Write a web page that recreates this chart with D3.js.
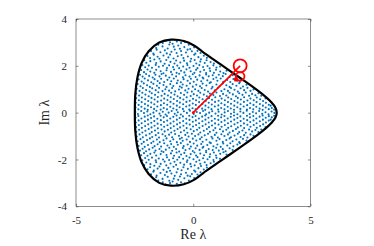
<!DOCTYPE html>
<html lang="en">
<head>
    <meta charset="UTF-8">
    <title>Eigenvalues and numerical range</title>
    <script src="https://d3js.org/d3.v7.min.js"></script>
    <style>
        body { margin: 0; background: #fff; }
        svg { display: block; }
        .tick text { font-family: "Liberation Serif", "Times New Roman", serif; font-size: 11px; fill: #262626; }
        .tick line { stroke: #404040; stroke-width: 0.6; }
        .label { font-family: "Liberation Serif", "Times New Roman", serif; font-size: 14px; fill: #262626; }
    </style>
</head>
<body>
<svg width="374" height="246"></svg>
<script>
    // tick values
    const reTicks = [-5, 0, 5];
    const imTicks = [-4, -2, 0, 2, 4];

    // boundary of the region, upper half (closed by symmetry below)
    const boundaryUpper = [
        [3.56, 0], [3.5, 0.22], [3.35, 0.42], [3.1, 0.66], [2.7, 0.98], [2.0, 1.48],
        [1.2, 2.04], [0.4, 2.6], [0.05, 2.86], [-0.4, 3.06], [-0.95, 3.12], [-1.45, 3.0],
        [-1.9, 2.62], [-2.2, 2.12], [-2.38, 1.5], [-2.47, 0.8], [-2.49, 0]
    ];

    // eigenvalues in the upper half plane and on the real axis
    // (real matrix, so the lower half holds the conjugates)
    const eigenvalues = [
        [-1.3,2.97],[-1.18,3.06],[-0.99,3.01],[-0.88,2.94],[-0.7,3.04],[-0.52,2.97],[-0.36,3.02],
        [-1.58,2.76],[-1.49,2.9],[-1.31,2.83],[-1.09,2.74],[-1.02,2.91],[-0.83,2.82],[-0.64,2.87],[-0.57,2.73],[-0.38,2.8],[-0.19,2.9],[-0.13,2.72],[0.04,2.79],
        [-1.8,2.63],[-1.7,2.52],[-1.56,2.69],[-1.4,2.58],[-1.21,2.66],[-1.13,2.53],[-0.93,2.6],[-0.79,2.7],[-0.71,2.55],[-0.52,2.63],[-0.31,2.57],[-0.24,2.69],[-0.06,2.62],[0.09,2.52],[0.18,2.64],[0.31,2.55],
        [-1.95,2.42],[-1.84,2.33],[-1.68,2.47],[-1.52,2.39],[-1.44,2.3],[-1.27,2.44],[-1.06,2.36],[-0.99,2.48],[-0.84,2.31],[-0.66,2.41],[-0.5,2.46],[-0.42,2.33],[-0.23,2.4],[-0.09,2.3],[0.04,2.47],[0.22,2.37],[0.33,2.28],[0.45,2.43],[0.58,2.34],
        [-2.09,2.24],[-2.0,2.13],[-1.83,2.2],[-1.66,2.27],[-1.58,2.12],[-1.39,2.19],[-1.22,2.09],[-1.15,2.25],[-0.97,2.17],[-0.8,2.1],[-0.73,2.23],[-0.55,2.14],[-0.39,2.22],[-0.27,2.11],[-0.12,2.19],[0.06,2.25],[0.13,2.1],[0.3,2.18],[0.49,2.12],[0.57,2.24],[0.74,2.16],[0.88,2.1],
        [-2.17,2.03],[-2.05,1.94],[-1.9,2.01],[-1.76,1.92],[-1.6,2.04],[-1.47,1.96],[-1.29,2.0],[-1.12,1.91],[-1.03,2.02],[-0.86,1.95],[-0.68,2.01],[-0.6,1.9],[-0.43,1.97],[-0.25,2.03],[-0.16,1.92],[0.01,1.99],[0.18,1.9],[0.26,2.03],[0.42,1.95],[0.61,1.99],[0.7,1.89],[0.86,2.02],[0.99,1.93],[1.14,1.97],
        [-2.22,1.82],[-2.1,1.73],[-1.95,1.84],[-1.83,1.76],[-1.66,1.7],[-1.58,1.83],[-1.39,1.77],[-1.27,1.68],[-1.14,1.81],[-0.95,1.74],[-0.82,1.84],[-0.71,1.7],[-0.52,1.79],[-0.38,1.72],[-0.29,1.85],[-0.11,1.77],[0.05,1.7],[0.12,1.83],[0.3,1.75],[0.46,1.82],[0.55,1.69],[0.72,1.78],[0.88,1.7],[0.97,1.83],[1.15,1.76],[1.29,1.69],[1.42,1.79],
        [-2.27,1.62],[-2.16,1.54],[-2.01,1.65],[-1.88,1.57],[-1.73,1.5],[-1.61,1.62],[-1.44,1.55],[-1.35,1.65],[-1.17,1.58],[-1.02,1.5],[-0.9,1.63],[-0.73,1.55],[-0.6,1.66],[-0.44,1.51],[-0.33,1.6],[-0.16,1.54],[-0.02,1.64],[0.1,1.52],[0.27,1.59],[0.4,1.5],[0.55,1.63],[0.66,1.55],[0.83,1.6],[0.98,1.5],[1.09,1.62],[1.26,1.56],[1.38,1.65],[1.55,1.52],[1.68,1.6],
        [-2.33,1.42],[-2.2,1.33],[-2.07,1.46],[-1.93,1.38],[-1.79,1.3],[-1.65,1.43],[-1.52,1.35],[-1.37,1.45],[-1.24,1.31],[-1.1,1.4],[-0.94,1.34],[-0.83,1.46],[-0.66,1.37],[-0.53,1.3],[-0.41,1.43],[-0.24,1.36],[-0.1,1.45],[0.02,1.32],[0.17,1.41],[0.34,1.34],[0.43,1.46],[0.6,1.38],[0.75,1.3],[0.86,1.44],[1.03,1.36],[1.17,1.46],[1.28,1.32],[1.45,1.4],[1.58,1.31],[1.71,1.44],[1.88,1.36],[1.99,1.31],
        [-2.37,1.22],[-2.25,1.13],[-2.11,1.25],[-1.97,1.17],[-1.85,1.1],[-1.7,1.23],[-1.55,1.15],[-1.43,1.26],[-1.27,1.18],[-1.14,1.1],[-0.98,1.22],[-0.85,1.14],[-0.7,1.26],[-0.57,1.12],[-0.45,1.2],[-0.28,1.15],[-0.14,1.25],[-0.02,1.11],[0.13,1.19],[0.29,1.13],[0.4,1.24],[0.56,1.16],[0.7,1.27],[0.82,1.1],[0.99,1.2],[1.12,1.13],[1.26,1.25],[1.41,1.17],[1.55,1.1],[1.68,1.22],[1.84,1.15],[1.96,1.26],[2.12,1.12],[2.27,1.19],
        [-2.41,1.02],[-2.29,0.93],[-2.15,1.05],[-2.01,0.97],[-1.86,0.9],[-1.75,1.04],[-1.6,0.96],[-1.46,1.06],[-1.31,0.92],[-1.19,1.0],[-1.03,0.94],[-0.9,1.05],[-0.77,0.91],[-0.61,0.99],[-0.49,1.07],[-0.34,0.95],[-0.2,1.02],[-0.06,0.9],[0.08,1.0],[0.22,0.93],[0.36,1.05],[0.49,0.97],[0.63,0.9],[0.78,1.03],[0.92,0.95],[1.05,1.06],[1.2,0.92],[1.33,1.0],[1.48,0.93],[1.61,1.05],[1.76,0.98],[1.9,0.9],[2.02,1.04],[2.17,0.96],[2.31,1.06],[2.44,0.93],[2.57,0.99],
        [-2.43,0.82],[-2.31,0.73],[-2.17,0.85],[-2.04,0.77],[-1.9,0.7],[-1.77,0.83],[-1.63,0.76],[-1.49,0.87],[-1.35,0.72],[-1.22,0.8],[-1.08,0.73],[-0.94,0.85],[-0.8,0.77],[-0.67,0.7],[-0.53,0.84],[-0.39,0.76],[-0.25,0.86],[-0.11,0.71],[0.02,0.79],[0.16,0.73],[0.3,0.85],[0.45,0.77],[0.58,0.7],[0.71,0.82],[0.86,0.75],[0.99,0.86],[1.14,0.71],[1.27,0.8],[1.41,0.73],[1.55,0.85],[1.69,0.78],[1.82,0.7],[1.96,0.83],[2.1,0.76],[2.24,0.86],[2.38,0.72],[2.51,0.8],[2.65,0.74],[2.78,0.83],[2.9,0.72],
        [-2.44,0.62],[-2.32,0.53],[-2.19,0.65],[-2.05,0.57],[-1.92,0.5],[-1.78,0.63],[-1.65,0.56],[-1.51,0.67],[-1.37,0.52],[-1.24,0.6],[-1.1,0.54],[-0.96,0.66],[-0.83,0.58],[-0.69,0.5],[-0.56,0.63],[-0.42,0.56],[-0.28,0.66],[-0.15,0.51],[-0.01,0.59],[0.12,0.53],[0.26,0.65],[0.4,0.57],[0.53,0.5],[0.67,0.62],[0.8,0.55],[0.94,0.66],[1.08,0.51],[1.21,0.6],[1.35,0.53],[1.49,0.65],[1.62,0.58],[1.76,0.5],[1.9,0.63],[2.03,0.56],[2.17,0.66],[2.31,0.52],[2.44,0.6],[2.58,0.53],[2.71,0.65],[2.85,0.57],[2.98,0.5],[3.08,0.61],
        [-2.45,0.42],[-2.33,0.33],[-2.2,0.45],[-2.06,0.37],[-1.93,0.3],[-1.79,0.43],[-1.66,0.36],[-1.52,0.47],[-1.38,0.32],[-1.25,0.4],[-1.11,0.34],[-0.97,0.46],[-0.84,0.38],[-0.7,0.3],[-0.57,0.43],[-0.43,0.36],[-0.29,0.46],[-0.16,0.31],[-0.02,0.39],[0.11,0.33],[0.25,0.45],[0.39,0.37],[0.52,0.3],[0.66,0.42],[0.79,0.35],[0.93,0.46],[1.07,0.31],[1.2,0.4],[1.34,0.33],[1.48,0.45],[1.61,0.38],[1.75,0.3],[1.89,0.43],[2.02,0.36],[2.16,0.46],[2.3,0.32],[2.43,0.4],[2.57,0.33],[2.7,0.45],[2.84,0.37],[2.97,0.3],[3.1,0.42],[3.22,0.34],[3.3,0.3],
        [-2.46,0.22],[-2.34,0.14],[-2.21,0.25],[-2.07,0.17],[-1.94,0.12],[-1.8,0.23],[-1.67,0.16],[-1.53,0.26],[-1.39,0.13],[-1.26,0.2],[-1.12,0.14],[-0.98,0.25],[-0.85,0.18],[-0.71,0.12],[-0.58,0.23],[-0.44,0.16],[-0.3,0.26],[-0.17,0.13],[-0.03,0.19],[0.1,0.14],[0.24,0.25],[0.38,0.17],[0.51,0.12],[0.65,0.22],[0.78,0.15],[0.92,0.26],[1.06,0.13],[1.19,0.2],[1.33,0.14],[1.47,0.25],[1.6,0.18],[1.74,0.12],[1.88,0.23],[2.01,0.16],[2.15,0.26],[2.29,0.13],[2.42,0.2],[2.56,0.14],[2.69,0.25],[2.83,0.17],[2.96,0.12],[3.09,0.22],[3.22,0.15],[3.35,0.2],[3.45,0.13],
        [-2.47,0.03],[-2.36,-0.06],[-2.22,0.07],[-2.1,-0.02],[-1.96,0.05],[-1.83,-0.07],[-1.7,0.0],[-1.57,0.08],[-1.44,-0.04],[-1.3,0.04],[-1.18,-0.08],[-1.05,0.0],[-0.92,0.07],[-0.79,-0.05],[-0.66,0.02],[-0.53,-0.08],[-0.4,0.06],[-0.27,-0.01],[-0.14,0.08],[0.02,-0.06],[0.15,0.03],[0.29,-0.02],[0.42,0.07],[0.55,-0.07],[0.68,0.0],[0.81,0.06],[0.95,-0.04],[1.08,0.04],[1.21,-0.08],[1.34,0.01],[1.48,0.07],[1.61,-0.05],[1.74,0.02],[1.88,-0.07],[2.01,0.05],[2.14,-0.01],[2.28,0.08],[2.41,-0.06],[2.54,0.03],[2.68,-0.03],[2.81,0.07],[2.94,-0.05],[3.08,0.02],[3.21,-0.07],[3.34,0.05],[3.46,-0.01]
    ];

    // red overlay: ray from the origin, two circles and the marked point
    const ray = [[0, 0], [2, 2]];
    const circleCenters = [[2, 2], [2, 1.55]];
    const circleRadii = [6.5, 4.3];
    const markedPoint = [1.82, 1.42];

    // conjugate pairs
    const allEig = eigenvalues.flatMap(([re, im]) => im > 0.1 ? [[re, im], [re, -im]] : [[re, im]]);
    const boundary = boundaryUpper.concat(boundaryUpper.slice(1, -1).reverse().map(([re, im]) => [re, -im]));

    const svg = d3.select("svg");
    const margin = { left: 76, right: 63.5, top: 19, bottom: 39.7 };
    const width = +svg.attr("width");
    const height = +svg.attr("height");

    const x = d3.scaleLinear().domain([-5, 5]).range([margin.left, width - margin.right]);
    const y = d3.scaleLinear().domain([-4, 4]).range([height - margin.bottom, margin.top]);

    // eigenvalue dots
    svg.append("g")
        .selectAll("circle")
        .data(allEig)
        .enter().append("circle")
        .attr("cx", d => x(d[0]))
        .attr("cy", d => y(d[1]))
        .attr("r", 1.05)
        .attr("fill", "#0072BD");

    // boundary curve
    const line = d3.line()
        .x(d => x(d[0]))
        .y(d => y(d[1]))
        .curve(d3.curveCatmullRomClosed.alpha(0.5));

    svg.append("path")
        .datum(boundary)
        .attr("d", line)
        .attr("fill", "none")
        .attr("stroke", "#000")
        .attr("stroke-width", 2.2);

    // red ray and markers
    svg.append("path")
        .datum(ray)
        .attr("d", d3.line().x(d => x(d[0])).y(d => y(d[1])))
        .attr("stroke", "#ff0000")
        .attr("stroke-width", 1.6)
        .attr("fill", "none");

    svg.append("circle")
        .attr("cx", x(0)).attr("cy", y(0)).attr("r", 1.4)
        .attr("fill", "#ff0000");

    svg.selectAll(".probe")
        .data(circleCenters)
        .enter().append("circle")
        .attr("class", "probe")
        .attr("cx", d => x(d[0]))
        .attr("cy", d => y(d[1]))
        .attr("r", (d, i) => circleRadii[i])
        .attr("fill", "none")
        .attr("stroke", "#ff0000")
        .attr("stroke-width", 1.8);

    svg.append("circle")
        .attr("cx", x(markedPoint[0])).attr("cy", y(markedPoint[1])).attr("r", 2.2)
        .attr("fill", "#ff0000");

    // axes box with inward ticks
    const fmt = d => String(d);
    const tk = 2.5;

    svg.append("g")
        .attr("transform", `translate(0,${y(-4)})`)
        .call(d3.axisBottom(x).tickValues(reTicks).tickFormat(fmt).tickSize(-tk).tickPadding(10))
        .call(g => g.select(".domain").remove());

    svg.append("g")
        .attr("transform", `translate(0,${y(4)})`)
        .call(d3.axisTop(x).tickValues(reTicks).tickFormat("").tickSize(-tk))
        .call(g => g.select(".domain").remove());

    svg.append("g")
        .attr("transform", `translate(${x(-5)},0)`)
        .call(d3.axisLeft(y).tickValues(imTicks).tickFormat(fmt).tickSize(-tk).tickPadding(9))
        .call(g => g.select(".domain").remove());

    svg.append("g")
        .attr("transform", `translate(${x(5)},0)`)
        .call(d3.axisRight(y).tickValues(imTicks).tickFormat("").tickSize(-tk))
        .call(g => g.select(".domain").remove());

    svg.append("rect")
        .attr("x", x(-5)).attr("y", y(4))
        .attr("width", x(5) - x(-5)).attr("height", y(-4) - y(4))
        .attr("fill", "none")
        .attr("stroke", "#404040")
        .attr("stroke-width", 0.6);

    svg.selectAll(".tick text").attr("font-family", null).attr("font-size", null);

    // axis labels
    svg.append("text")
        .attr("class", "label")
        .attr("x", x(0))
        .attr("y", 239)
        .attr("text-anchor", "middle")
        .text("Re λ");

    svg.append("text")
        .attr("class", "label")
        .attr("transform", `translate(49,${y(0)}) rotate(-90)`)
        .attr("text-anchor", "middle")
        .text("Im λ");
</script>
</body>
</html>
